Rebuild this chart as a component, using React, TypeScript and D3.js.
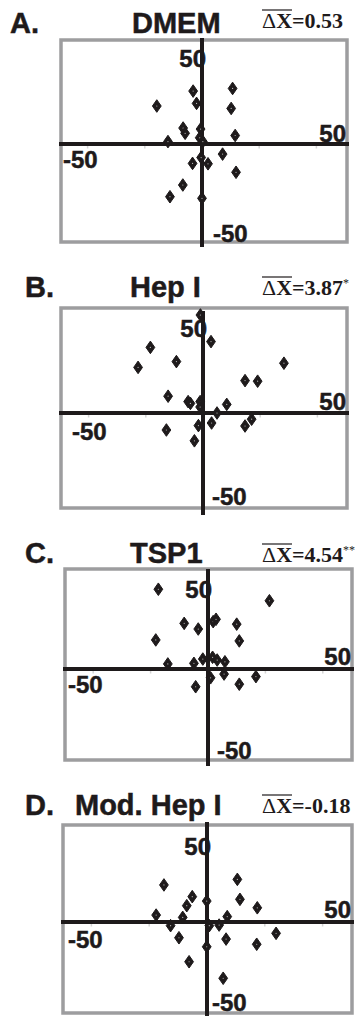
import React, { useEffect, useRef } from 'react';
import * as d3 from 'd3';

// Cell displacement (x, y) per condition
const dmemPoints: [number, number][] = [
  [-15.8, 18.8], [-3.1, 26.2], [10.7, 27.5], [-1.9, 20.1], [10.2, 17.6],
  [-6.6, 7.9], [-5.9, 5.3], [-0.5, 7.4], [-11.9, 1.2], [-0.8, 3.1],
  [0.3, 1.2], [11.6, 4.2], [7.2, -5.0], [-0.3, -6.7], [-3.3, -9.6],
  [2.1, -9.8], [11.9, -14.0], [-6.7, -20.3], [-11.2, -26.1], [0, -26.9],
];
const hepIPoints: [number, number][] = [
  [-0.9, 49], [2.8, 35.7], [-18.4, 32.8], [-9.3, 25.7], [-22.7, 22.8],
  [28.3, 24.9], [14.7, 16.2], [19.1, 15.9], [-12.2, 8.4], [-5.2, 5.7],
  [-4.4, 4.8], [-1.0, 5.7], [-1.0, 3.0], [8.3, 4.3], [4.9, 0],
  [-12.8, -8.5], [-1.6, -6.3], [3.0, -5.0], [-3.0, -13.9], [14.7, -6.5],
  [17.0, -3.1],
];
const tsp1Points: [number, number][] = [
  [-17.3, 40.9], [21.4, 35.0], [-8.3, 23.4], [-3.4, 20.5], [1.8, 24.3],
  [2.8, 25.5], [10.0, 23.0], [-18.2, 14.9], [10.9, 14.4], [-14.0, 2.6],
  [-4.9, 2.9], [-1.8, 5.1], [1.6, 6.0], [3.2, 4.6], [5.9, 3.7],
  [0.9, -4.5], [5.6, -2.6], [-4.3, -9.1], [10.9, -7.8], [16.7, -3.9],
];
const modHepIPoints: [number, number][] = [
  [-14.9, 19.3], [10.5, 22.2], [-5.1, 13.2], [-7.0, 8.5], [-0.1, 10.9],
  [11.4, 11.8], [17.4, 7.4], [-17.6, 3.6], [-8.4, 2.4], [7.0, 2.8],
  [-12.6, -1.9], [0.8, -1.9], [4.2, -1.6], [23.9, -5.9], [-9.7, -8.2],
  [6.6, -8.9], [17.2, -11.6], [-0.1, -12.9], [-6.2, -20.7], [5.6, -29.3],
];

const panelLetters = ['A.', 'B.', 'C.', 'D.'];
const panelTitles = ['DMEM', 'Hep I', 'TSP1', 'Mod. Hep I'];
const meanDeltas = ['0.53', '3.87', '4.54', '-0.18'];
const significance = ['', '*', '**', ''];
const axisLimit = 50;
const minorTicks = [-40, -20, 20, 40];

// Layout of each panel on the page (box, origin, px per unit, title row)
const layouts = [
  { box: [61, 40, 347, 242], x0: 202, y0: 144, kx: 2.86, ky: 2.02, vTop: 38, vBot: 247, titleY: 33, letterX: 10, titleX: 132, deltaY: 28 },
  { box: [61, 308, 347, 508], x0: 203, y0: 413, kx: 2.86, ky: 2.0, vTop: 311, vBot: 515, titleY: 297, letterX: 25, titleX: 130, deltaY: 295 },
  { box: [65, 569, 352, 760], x0: 208, y0: 669, kx: 2.87, ky: 1.95, vTop: 569, vBot: 766, titleY: 563, letterX: 25, titleX: 130, deltaY: 562 },
  { box: [63, 825, 352, 1013], x0: 207, y0: 922, kx: 2.89, ky: 1.92, vTop: 822, vBot: 1020, titleY: 815, letterX: 25, titleX: 75, deltaY: 813 },
];
// Axis end-label placement per panel
const topLabelY = [67, 337, 598, 855];
const rightLabelY = [142, 410, 665, 918];
const leftLabelX = [63, 72, 68, 68];
const leftLabelY = [168, 440, 693, 948];
const bottomLabelX = [213, 212, 217, 212];
const bottomLabelY = [242, 505, 759, 1011];

const SANS = '"Liberation Sans", Arial, sans-serif';
const SERIF = '"Liberation Serif", "Times New Roman", serif';
const INK = '#1e1a1b';

export default function App() {
  const svgRef = useRef<SVGSVGElement | null>(null);

  useEffect(() => {
    document.body.style.margin = '0';
    const width = 357;
    const height = 1016;
    const svg = d3.select(svgRef.current).attr('width', width).attr('height', height);
    svg.selectAll('*').remove();
    svg.append('rect').attr('width', width).attr('height', height).attr('fill', '#fff');

    const series = [dmemPoints, hepIPoints, tsp1Points, modHepIPoints];

    const diamond = (hw: number, hh: number) => {
      const p = d3.path();
      p.moveTo(0, -hh); p.lineTo(hw, 0); p.lineTo(0, hh); p.lineTo(-hw, 0); p.closePath();
      return p.toString();
    };
    const marker = diamond(4.4, 6.3);

    layouts.forEach((L, i) => {
      const [bl, bt, br, bb] = L.box;
      const x = d3.scaleLinear().domain([-axisLimit, axisLimit]).range([L.x0 - axisLimit * L.kx, L.x0 + axisLimit * L.kx]);
      const y = d3.scaleLinear().domain([-axisLimit, axisLimit]).range([L.y0 + axisLimit * L.ky, L.y0 - axisLimit * L.ky]);
      const g = svg.append('g');

      // Titles
      const heavy = (sel: any) => sel.attr('stroke', INK).attr('stroke-width', 0.5).attr('paint-order', 'stroke');
      g.append('text').attr('x', L.letterX).attr('y', L.titleY).attr('font-family', SANS).attr('font-weight', 700)
        .attr('font-size', 29).attr('fill', INK).call(heavy).text(panelLetters[i]);
      g.append('text').attr('x', L.titleX).attr('y', L.titleY).attr('font-family', SANS).attr('font-weight', 700)
        .attr('font-size', 29).attr('fill', INK).call(heavy).text(panelTitles[i]);

      const dt = g.append('text').attr('x', 262).attr('y', L.deltaY).attr('font-family', SERIF).attr('font-weight', 700)
        .attr('font-size', 22).attr('fill', INK);
      dt.append('tspan').attr('font-weight', 400).text('\u0394');
      dt.append('tspan').text(`X=${meanDeltas[i]}`);
      if (significance[i]) {
        dt.append('tspan').attr('font-size', 12).attr('font-weight', 400).attr('dy', -8).text(significance[i]);
      }
      const barLen = (dt.node() as SVGTextElement).getSubStringLength(0, 2);
      g.append('line').attr('x1', 262).attr('x2', 262 + barLen).attr('y1', L.deltaY - 18).attr('y2', L.deltaY - 18)
        .attr('stroke', INK).attr('stroke-width', 1.2);

      // Frame
      g.append('rect').attr('x', bl).attr('y', bt).attr('width', br - bl).attr('height', bb - bt)
        .attr('fill', 'none').attr('stroke', '#9d9d9f').attr('stroke-width', 3.5);

      // Faint minor ticks on the x axis
      g.selectAll('.mt').data(minorTicks).join('line')
        .attr('x1', d => x(d)).attr('x2', d => x(d)).attr('y1', y(0) + 2).attr('y2', y(0) + 4.5)
        .attr('stroke', '#d4d4d4').attr('stroke-width', 1.5);

      // Axes through the origin
      g.append('line').attr('x1', bl - 2).attr('x2', br + 2).attr('y1', y(0)).attr('y2', y(0))
        .attr('stroke', INK).attr('stroke-width', 4);
      g.append('line').attr('x1', x(0)).attr('x2', x(0)).attr('y1', L.vTop).attr('y2', L.vBot)
        .attr('stroke', INK).attr('stroke-width', 4);

      // Axis end labels
      const lab = (tx: number, ty: number, anchor: string, s: string) =>
        g.append('text').attr('x', tx).attr('y', ty).attr('text-anchor', anchor).attr('font-family', SANS)
          .attr('font-weight', 700).attr('font-size', 24).attr('fill', INK).call(heavy).text(s);
      lab(x(0) + 4, topLabelY[i], 'end', `${axisLimit}`);
      lab(br - 1, rightLabelY[i], 'end', `${axisLimit}`);
      lab(leftLabelX[i], leftLabelY[i], 'start', `${-axisLimit}`);
      lab(bottomLabelX[i], bottomLabelY[i], 'start', `${-axisLimit}`);

      // Points
      const pts = g.selectAll('.pt').data(series[i]).join('g')
        .attr('transform', d => `translate(${x(d[0])},${y(d[1])})`);
      pts.append('path').attr('d', marker).attr('fill', INK).attr('stroke', INK)
        .attr('stroke-width', 1).attr('stroke-linejoin', 'round');
      pts.append('circle').attr('r', 0.6).attr('fill', '#bbb');
    });
  }, []);

  return (
    <div style={{ width: 357, height: 1016, position: 'relative' }}>
      <svg ref={svgRef} style={{ display: 'block' }} />
    </div>
  );
}
